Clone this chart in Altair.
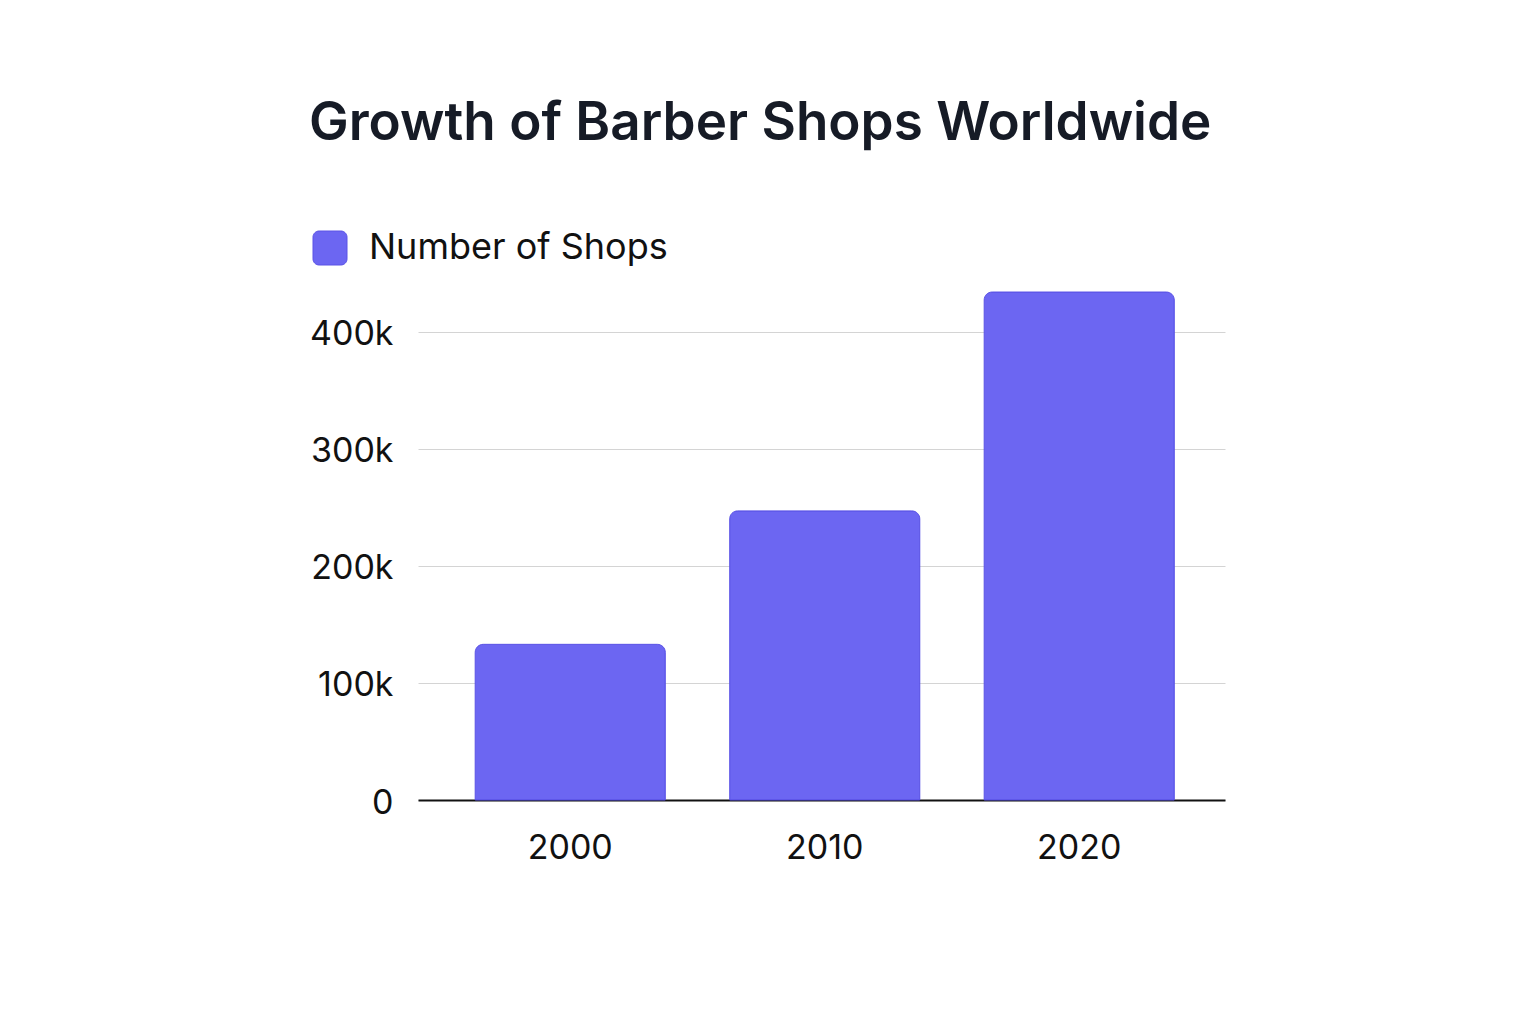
import altair as alt
import pandas as pd

years = ["2000", "2010", "2020"]
shops = [133000, 247000, 434000]
series_name = "Number of Shops"

df = pd.DataFrame({"year": years, "shops": shops, "series": [series_name] * len(years)})

rounded_square = ("M-0.64,-1 H0.64 A0.36,0.36 0 0 1 1,-0.64 V0.64 "
                  "A0.36,0.36 0 0 1 0.64,1 H-0.64 A0.36,0.36 0 0 1 -1,0.64 "
                  "V-0.64 A0.36,0.36 0 0 1 -0.64,-1 Z")

chart = alt.Chart(df).mark_bar(
    cornerRadiusTopLeft=8, cornerRadiusTopRight=8,
    stroke="#5B53E6", strokeWidth=1
).encode(
    x=alt.X("year:N", sort=years, title=None,
            scale=alt.Scale(paddingInner=0.253, paddingOuter=0.212, align=0.53),
            axis=alt.Axis(labelAngle=0, labelFont="Inter", labelFontSize=34,
                          labelColor="#111111", labelPadding=31, ticks=False,
                          domainColor="#111111", domainWidth=2, grid=False)),
    y=alt.Y("shops:Q", title=None,
            scale=alt.Scale(domain=[0, 440000], nice=False),
            axis=alt.Axis(values=[0, 100000, 200000, 300000, 400000],
                          labelExpr="datum.value == 0 ? '0' : format(datum.value / 1000, 'd') + 'k'",
                          labelFont="Inter", labelFontSize=34, labelColor="#111111",
                          labelPadding=25, labelOffset=3, ticks=False, domain=False,
                          gridColor="#d4d4d4", gridWidth=1)),
    color=alt.Color("series:N", title=None,
                    scale=alt.Scale(range=["#6C66F2"]),
                    legend=alt.Legend(orient="none", legendX=-106, legendY=-55,
                                      symbolType=rounded_square, symbolSize=1156,
                                      symbolStrokeColor="#5B53E6", symbolStrokeWidth=1,
                                      labelFont="Inter", labelFontSize=36,
                                      labelColor="#111111", labelOffset=21,
                                      labelLimit=600)),
).properties(
    width=807,
    height=515,
    padding={"left": 410, "top": 277, "right": 20, "bottom": 120},
    autosize="none",
    title=alt.Title("Growth of Barber Shops Worldwide", anchor="start", frame="group",
                    font="Inter", fontSize=53, fontWeight=600, color="#161b26",
                    dx=-109, dy=-79, offset=0),
).configure(background="white").configure_view(strokeWidth=0, stroke=None)

chart.save("out.html", embed_options={"renderer": "svg", "actions": False})
